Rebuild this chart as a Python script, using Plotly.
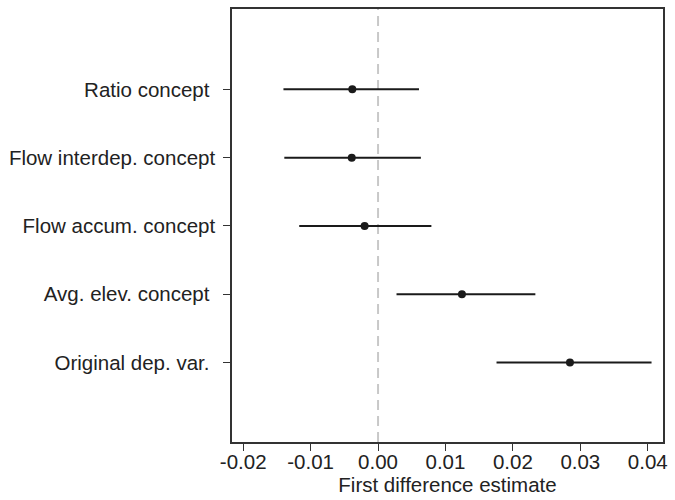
import plotly.graph_objects as go

categories = ["Original dep. var.\u00a0", "Avg. elev. concept\u00a0", "Flow accum. concept",
              "Flow interdep. concept", "Ratio concept\u00a0"]
estimates = [0.02846, 0.01244, -0.00199, -0.00390, -0.00382]
ci_low = [0.01757, 0.00274, -0.01169, -0.01390, -0.01403]
ci_high = [0.04056, 0.02333, 0.00791, 0.00635, 0.00607]
x_ticks = [-0.02, -0.01, 0.00, 0.01, 0.02, 0.03, 0.04]

err_plus = [h - e for h, e in zip(ci_high, estimates)]
err_minus = [e - l for e, l in zip(estimates, ci_low)]

font_family = "Liberation Sans, Arial, sans-serif"
fs = 20.5

fig = go.Figure()
fig.add_vline(x=0, line=dict(color="#c8c8c8", width=2, dash="10px,6px"), layer="below")
fig.add_trace(go.Scatter(
    x=estimates, y=categories, mode="markers",
    marker=dict(color="#1a1a1a", size=8),
    error_x=dict(type="data", symmetric=False, array=err_plus, arrayminus=err_minus,
                 color="#1a1a1a", thickness=2, width=0),
    showlegend=False, hoverinfo="skip",
))

fig.update_layout(
    width=675, height=500,
    margin=dict(l=232, r=8, t=7, b=58),
    paper_bgcolor="white", plot_bgcolor="white",
    font=dict(family=font_family, size=fs, color="#222222"),
    xaxis=dict(
        range=[-0.02166, 0.04226], tickvals=x_ticks,
        ticktext=["%.2f" % v for v in x_ticks],
        ticks="outside", ticklen=7, tickwidth=1.3, tickcolor="#333333",
        showline=True, linecolor="#333333", linewidth=1.5, mirror=True,
        showgrid=False, zeroline=False, ticklabelstandoff=-6,
        title=dict(text="First difference estimate", standoff=2, font=dict(size=fs)),
        tickfont=dict(size=fs),
    ),
    yaxis=dict(
        type="category", categoryorder="array", categoryarray=categories,
        range=[-1.162, 5.176],
        ticks="outside", ticklen=7, tickwidth=1.3, tickcolor="#333333",
        showline=True, linecolor="#333333", linewidth=1.5, mirror=True,
        showgrid=False, zeroline=False, ticklabelstandoff=4,
        tickfont=dict(size=fs),
    ),
)

fig.write_html("out.html")
